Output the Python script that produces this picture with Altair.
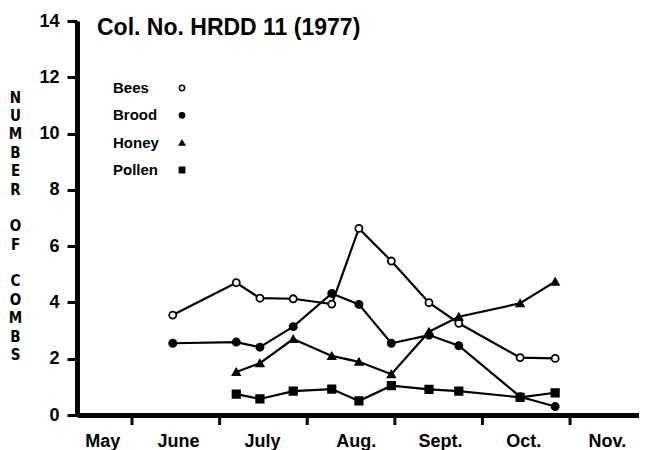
import altair as alt
import pandas as pd

# ---- data ----
series_names = ["Bees", "Brood", "Honey", "Pollen"]
# sampling dates expressed in months after May 1 (1 = June 1, 2 = July 1, ...)
sample_pos = [1.465, 2.19, 2.46, 2.84, 3.28, 3.59, 3.96, 4.39, 4.73, 5.43, 5.83]
bees = [3.55, 4.70, 4.15, 4.13, 3.94, 6.63, 5.47, 3.99, 3.26, 2.04, 2.01]
brood = [2.55, 2.59, 2.41, 3.14, 4.32, 3.93, 2.55, 2.84, 2.46, 0.65, 0.30]
honey = [1.53, 1.84, 2.70, 2.10, 1.89, 1.45, 2.96, 3.49, 3.97, 4.74]
pollen = [0.74, 0.57, 0.85, 0.92, 0.50, 1.04, 0.91, 0.85, 0.63, 0.79]

month_names = ["May", "June", "July", "Aug.", "Sept.", "Oct.", "Nov."]
month_label_pos = [0.66, 1.525, 2.485, 3.555, 4.515, 5.465, 6.42]
month_tick_pos = [1, 2, 3, 4, 5, 6]
y_ticks = [0, 2, 4, 6, 8, 10, 12, 14]
GAP = "\u2800"  # blank spacer line between the stacked words
y_title = list("NUMBER") + [GAP] + list("OF") + [GAP] + list("COMBS")
chart_title = "Col. No. HRDD 11 (1977)"

rows = []
for name, vals in zip(series_names, [bees, brood, honey, pollen]):
    xs = sample_pos[len(sample_pos) - len(vals):]
    for i, (m, v) in enumerate(zip(xs, vals)):
        rows.append({"series": name, "m": m, "v": v, "order": i})
df = pd.DataFrame(rows)
ticks_df = pd.DataFrame({"t": month_tick_pos})
legend_df = pd.DataFrame({"series": series_names})
title_df = pd.DataFrame({"text": [chart_title]})

FONT = "Liberation Sans, Arial, sans-serif"
NARROW = "Liberation Sans Narrow, DejaVu Sans Condensed, Liberation Sans, DejaVu Sans, sans-serif"
W, H = 562, 394

x_scale = alt.Scale(domain=[0.372, 6.787], nice=False, zero=False)
y_scale = alt.Scale(domain=[0, 14], nice=False, zero=True)
fill_scale = alt.Scale(domain=series_names, range=["white", "black", "black", "black"])
shape_scale = alt.Scale(domain=series_names, range=["circle", "circle", "triangle-up", "square"])
size_scale = alt.Scale(domain=series_names, range=[50, 55, 35, 40])
legend_y_scale = alt.Scale(domain=series_names, range=[67, 149], padding=0)

names_js = "[" + ",".join("'%s'" % n for n in month_names) + "]"
pos_js = "[" + ",".join(str(p) for p in month_label_pos) + "]"

x_axis = alt.Axis(
    values=month_label_pos,
    labelExpr="%s[indexof(%s, datum.value)]" % (names_js, pos_js),
    ticks=False, tickSize=0, labelPadding=31, labelBaseline="alphabetic",
    labelFont=FONT, labelFontSize=18, labelFontWeight="bold", labelColor="black",
    labelFlush=False, labelOverlap=False,
    domainColor="black", domainWidth=5, grid=False,
)
y_axis = alt.Axis(
    values=y_ticks, format="d",
    labelFont=FONT, labelFontSize=18, labelFontWeight="bold", labelColor="black",
    labelPadding=8, tickSize=10, tickWidth=3, tickColor="black",
    domainColor="black", domainWidth=5, grid=False,
    title=y_title, titleAngle=0, titleX=-62, titleY=69, titleBaseline="top",
    titleAlign="center", titleFont=NARROW, titleFontSize=15, titleFontWeight="bold",
    titleColor="black", titleLineHeight=18.4,
)

lines = alt.Chart(df).mark_line(color="black", strokeWidth=2.2).encode(
    x=alt.X("m:Q", scale=x_scale, axis=x_axis, title=""),
    y=alt.Y("v:Q", scale=y_scale, axis=y_axis),
    detail="series:N",
    order="order:Q",
)

tick_rules = alt.Chart(ticks_df).mark_rule(color="black", strokeWidth=3).encode(
    x=alt.X("t:Q", scale=x_scale, axis=x_axis, title=""),
    y=alt.value(H),
    y2=alt.value(H + 10),
)

points = alt.Chart(df).mark_point(filled=False, stroke="black", strokeWidth=1.8, opacity=1).encode(
    x=alt.X("m:Q", scale=x_scale, axis=x_axis, title=""),
    y=alt.Y("v:Q", scale=y_scale, axis=y_axis),
    fill=alt.Fill("series:N", scale=fill_scale, legend=None),
    shape=alt.Shape("series:N", scale=shape_scale, legend=None),
    size=alt.Size("series:N", scale=size_scale, legend=None),
)

data_layers = alt.layer(lines, tick_rules, points)

legend_labels = alt.Chart(legend_df).mark_text(
    align="left", baseline="middle", font=FONT, fontSize=15, fontWeight="bold", color="black",
).encode(
    x=alt.value(36),
    y=alt.Y("series:N", scale=legend_y_scale, axis=None),
    text="series:N",
)
legend_symbols = alt.Chart(legend_df).mark_point(
    filled=False, stroke="black", strokeWidth=1.5, opacity=1, size=28,
).encode(
    x=alt.value(105),
    y=alt.Y("series:N", scale=legend_y_scale, axis=None),
    fill=alt.Fill("series:N", scale=fill_scale, legend=None),
    shape=alt.Shape("series:N", scale=shape_scale, legend=None),
)
legend_layers = alt.layer(legend_labels, legend_symbols)

title_text = alt.Chart(title_df).mark_text(
    align="left", baseline="alphabetic", font=FONT, fontSize=23, fontWeight="bold", color="black",
).encode(
    x=alt.value(20),
    y=alt.value(14),
    text="text:N",
)

chart = alt.layer(data_layers, legend_layers, title_text).resolve_scale(
    y="independent"
).properties(
    width=W, height=H,
    autosize=alt.AutoSizeParams(type="none"),
    padding={"left": 69, "top": 13, "right": 0, "bottom": 35},
    background="white",
).configure_view(stroke=None)

chart.save("out.html", embed_options={"renderer": "svg", "actions": False})
